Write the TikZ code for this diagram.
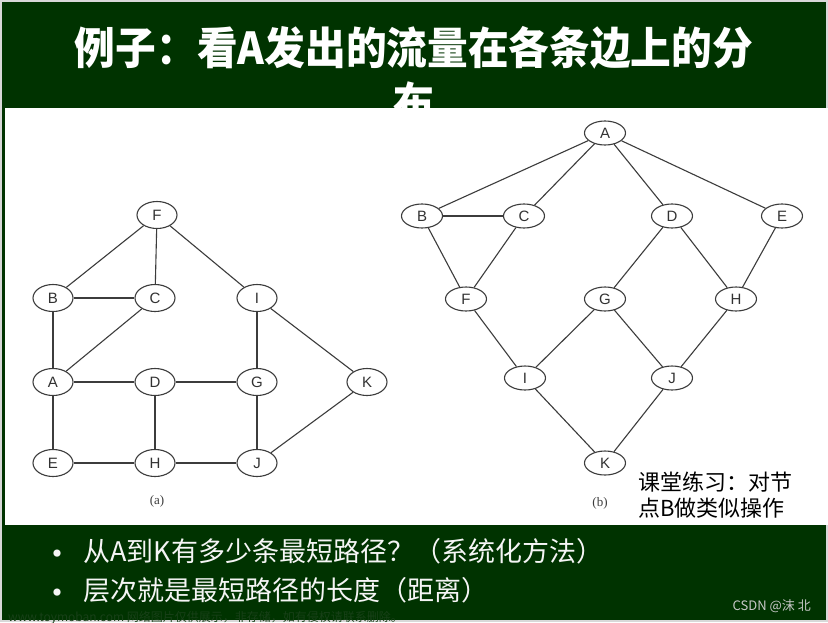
\documentclass[tikz,border=0pt]{standalone}
\usepackage{fontspec}
\usepackage{graphicx}
\setmainfont{Liberation Sans}
\newfontfamily\cjk{Noto Sans CJK SC}
\newfontfamily\serifx{Liberation Serif}
\usetikzlibrary{shapes.geometric}
\definecolor{slidegreen}{RGB}{0,51,0}
\definecolor{edgegray}{RGB}{216,216,216}
\definecolor{linegray}{RGB}{60,60,60}
\definecolor{nodetext}{RGB}{50,50,50}
\definecolor{csdngray}{RGB}{200,200,200}
\definecolor{wmgreen}{RGB}{24,64,24}
\definecolor{foottext}{RGB}{245,245,245}
\begin{document}
\begin{tikzpicture}[x=1pt,y=-1pt,
  vtxa/.style={ellipse, draw=linegray, line width=1.1pt, minimum width=40pt, minimum height=27pt, inner sep=0pt, fill=white, text=nodetext, font=\fontsize{15}{15}\selectfont},
  vtxb/.style={vtxa, minimum width=41pt, minimum height=24pt},
  edgeline/.style={draw=linegray, line width=1.1pt},
  titletext/.style={inner sep=0pt, text=white, font=\cjk\bfseries\fontsize{44}{54}\selectfont},
  foot/.style={inner sep=0pt, text=foottext, font=\cjk\fontsize{27}{30}\selectfont},
  bulletmark/.style={inner sep=0pt, text=foottext, font=\cjk\fontsize{34}{34}\selectfont},
  exer/.style={inner sep=0pt, text=black, font=\cjk\fontsize{22}{26}\selectfont},
  sublabel/.style={inner sep=0pt, text=linegray, font=\serifx\fontsize{13}{13}\selectfont}
]
\useasboundingbox (0,0) rectangle (828,622);
% background and bands
\fill[edgegray] (0,0) rectangle (828,622);
\fill[slidegreen] (2,2) rectangle (826,620);
% title
\node[titletext, anchor=base] (title1) at (414,64.7) {\scalebox{0.925}[1]{例子：看A发出的流量在各条边上的分}};
\node[titletext, anchor=base] (title2) at (414,119) {\scalebox{0.925}[1]{布}};
% white content area (covers the second title line)
\fill[white] (5,108) rectangle (828,525);

% ---- graph (a)
\node[vtxa] (aF) at (157,215) {F};
\node[vtxa] (aB) at (53,298) {B};
\node[vtxa] (aC) at (155,298) {C};
\node[vtxa] (aI) at (257,298) {I};
\node[vtxa] (aA) at (53,382) {A};
\node[vtxa] (aD) at (155,382) {D};
\node[vtxa] (aG) at (257,382) {G};
\node[vtxa] (aK) at (367,382) {K};
\node[vtxa] (aE) at (53,463) {E};
\node[vtxa] (aH) at (155,463) {H};
\node[vtxa] (aJ) at (257,463) {J};
\foreach \u/\v in {aF/aB, aF/aC, aF/aI, aB/aC, aB/aA, aC/aA, aI/aG, aI/aK, aA/aD, aA/aE, aD/aG, aD/aH, aG/aJ, aE/aH, aH/aJ, aJ/aK}
  \draw[edgeline] (\u) -- (\v);
\node[sublabel] (alabel) at (157,501) {(a)};

% ---- graph (b)
\node[vtxb] (bA) at (605,133) {A};
\node[vtxb] (bB) at (422,216) {B};
\node[vtxb] (bC) at (524,216) {C};
\node[vtxb] (bD) at (672,216) {D};
\node[vtxb] (bE) at (782,216) {E};
\node[vtxb] (bF) at (466,299) {F};
\node[vtxb] (bG) at (605,299) {G};
\node[vtxb] (bH) at (736,299) {H};
\node[vtxb] (bI) at (525,378) {I};
\node[vtxb] (bJ) at (672,378) {J};
\node[vtxb] (bK) at (605,463) {K};
\foreach \u/\v in {bA/bB, bA/bC, bA/bD, bA/bE, bB/bC, bB/bF, bC/bF, bD/bG, bD/bH, bE/bH, bF/bI, bG/bI, bG/bJ, bH/bJ, bI/bK, bJ/bK}
  \draw[edgeline] (\u) -- (\v);
\node[sublabel] (blabel) at (600,503) {(b)};

% exercise note
\node[exer, anchor=base west] (ex1) at (638,490.4) {课堂练习：对节};
\node[exer, anchor=base west] (ex2) at (638,516.4) {点B做类似操作};

% footer bullets
\node[bulletmark, anchor=center] (bul1) at (57,558) {•};
\node[foot, anchor=base west] (line1) at (83,561) {从A到K有多少条最短路径？（系统化方法）};
\node[bulletmark, anchor=center] (bul2) at (57,597) {•};
\node[foot, anchor=base west] (line2) at (83,600) {层次就是最短路径的长度（距离）};

% marks
\node[inner sep=0pt, anchor=base east, text=csdngray, font=\cjk\fontsize{13}{13}\selectfont] (csdn) at (811,610) {CSDN @沫 北};
\node[inner sep=0pt, anchor=base west, text=wmgreen, font=\cjk\fontsize{12}{12}\selectfont] (wm) at (8,621) {www.toymoban.com 网络图片仅供展示，非存储，如有侵权请联系删除。};
\end{tikzpicture}
\end{document}
